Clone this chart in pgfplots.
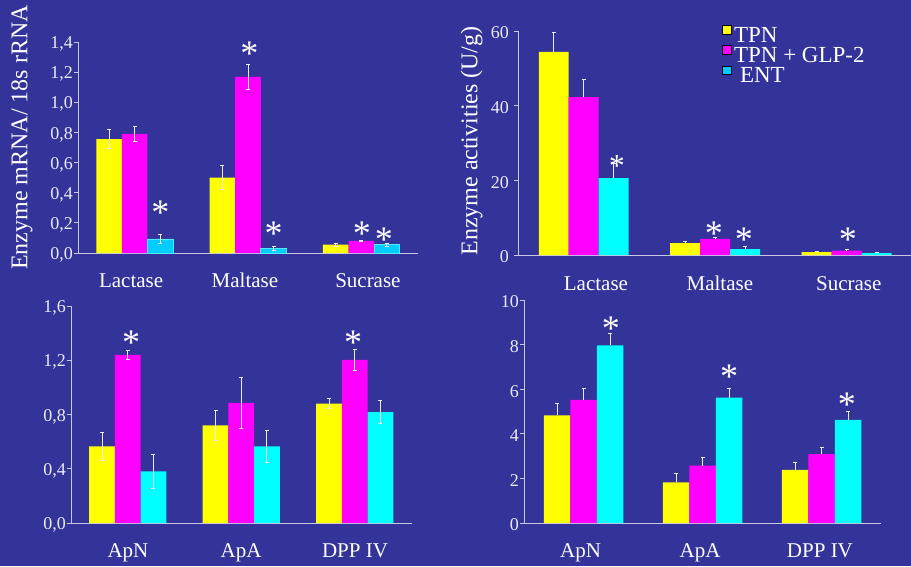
\documentclass[border=0pt]{standalone}
\usepackage{fontspec}
\setmainfont{Liberation Serif}
\usepackage{pgfplots}
\pgfplotsset{compat=1.18}
\definecolor{bg}{RGB}{51,51,153}
\definecolor{yel}{RGB}{255,255,0}
\definecolor{mag}{RGB}{255,0,255}
\definecolor{cyA}{RGB}{0,204,255}
\definecolor{cyAb}{RGB}{80,235,255}
\definecolor{cyB}{RGB}{0,255,255}
\definecolor{axc}{RGB}{200,200,230}
\definecolor{txt}{RGB}{235,235,245}
\tikzset{astk/.style={anchor=base, yshift=-16.2pt, inner sep=0pt, text=white, font=\fontsize{36}{36}\selectfont}}
\pgfplotsset{
  panel/.style={
    scale only axis, anchor=south west,
    axis x line*=bottom, axis y line*=left,
    axis line style={axc, line width=0.9pt, -},
    xmin=-0.5, xmax=2.5, ymin=0,
    tick align=outside, major tick length=4pt,
    xtick style={draw=none}, ytick style={axc, line width=0.8pt},
    yticklabel style={font=\fontsize{18}{18}\selectfont, text=txt, inner sep=1pt, yshift=-2pt},
    xticklabel style={font=\fontsize{21}{21}\selectfont, text=white, anchor=base, yshift=-30pt},
    /pgf/number format/assume math mode=true,
    clip=false,
  },
  commaticks/.style={yticklabel style={/pgf/number format/.cd, use comma, fixed, fixed zerofill, precision=1}},
  mybar/.style={ybar, /pgf/bar shift=0pt, draw=none, fill=#1, forget plot},
  eb/.style={error bars/.cd, y dir=#1, y explicit,
    error bar style={line width=0.9pt, txt},
    error mark options={rotate=90, mark size=2pt, line width=0.9pt, txt}},
}
\begin{document}
\begin{tikzpicture}
\fill[bg] (0,0) rectangle (911pt,566pt);

% ---------- Panel 1: mRNA ----------
\begin{axis}[panel, commaticks, at={(78pt,313pt)}, width=340pt, height=211pt,
  ymax=1.4, ytick={0,0.2,...,1.4},
  xtick={-0.031,0.973,2.058}, xticklabels={Lactase,Maltase,Sucrase},
  ylabel={Enzyme mRNA/ 18s rRNA},
  every axis y label/.style={at={(-0.165,0.547)}, rotate=90, anchor=center, font=\fontsize{24}{24}\selectfont, text=white}]
\addplot[mybar=yel, bar width=0.2257, eb=both] coordinates {(-0.2257,0.756) +- (0,0.063) (0.7743,0.50) +- (0,0.08) (1.7743,0.055) +- (0,0.01)};
\addplot[mybar=mag, bar width=0.2257, eb=both] coordinates {(0,0.79) +- (0,0.048) (1,1.168) +- (0,0.085) (2,0.08) +- (0,0.006)};
\addplot[mybar=cyA, draw=cyAb, line width=0.8pt, bar width=0.2257, eb=both] coordinates {(0.2257,0.093) +- (0,0.03) (1.2257,0.03) +- (0,0.012) (2.2257,0.055) +- (0,0.01)};
\node[astk] at (axis cs:0.226,0.299) {*};
\node[astk] at (axis cs:1.013,1.354) {*};
\node[astk] at (axis cs:1.226,0.159) {*};
\node[astk] at (axis cs:2.004,0.159) {*};
\node[astk] at (axis cs:2.199,0.119) {*};
\end{axis}

% ---------- Panel 2: activities ----------
\begin{axis}[panel, at={(518pt,311pt)}, width=393pt, height=224pt,
  xmax=2.49, ymax=60, ytick={0,20,40,60},
  yticklabel style={xshift=-4pt},
  xtick={0.093,1.036,2.017}, xticklabels={Lactase,Maltase,Sucrase},
  xticklabel style={yshift=-1pt},
  ylabel={Enzyme activities (U/g)},
  every axis y label/.style={at={(-0.118,0.509)}, rotate=90, anchor=center, font=\fontsize{24}{24}\selectfont, text=white},
  legend style={at={(0.519,1.027)}, anchor=north west, draw=none, fill=none, text=white,
    font=\fontsize{23}{23}\selectfont, inner sep=0pt, row sep=3.2pt,
    nodes={inner sep=0pt, text height=0.68em, text depth=0pt},
    /tikz/every odd column/.style={column sep=3pt}},
  legend cell align=left,
  legend image code/.code={\fill[#1] (0pt,5pt) rectangle (8.5pt,13.5pt);}]
\addlegendimage{fill=yel}\addlegendentry{TPN}
\addlegendimage{fill=mag}\addlegendentry{TPN + GLP-2}
\addlegendimage{fill=cyA}\addlegendentry{\hspace{6pt}ENT}
\addplot[mybar=yel, bar width=0.228, eb=plus] coordinates {(-0.228,54.4) +- (0,5.1) (0.772,3.2) +- (0,0.3) (1.772,0.8) +- (0,0.15)};
\addplot[mybar=mag, bar width=0.228, eb=plus] coordinates {(0,42.3) +- (0,4.8) (1,4.3) +- (0,0.5) (2,1.2) +- (0,0.2)};
\addplot[mybar=cyB, bar width=0.228, eb=plus] coordinates {(0.228,20.6) +- (0,4.0) (1.228,1.6) +- (0,0.6) (2.228,0.5) +- (0,0.2)};
\node[astk, font=\fontsize{32}{32}\selectfont, yshift=2pt] at (axis cs:0.253,24.9) {*};
\node[astk] at (axis cs:0.990,6.97) {*};
\node[astk] at (axis cs:1.219,5.36) {*};
\node[astk] at (axis cs:2.009,5.36) {*};
\end{axis}

% ---------- Panel 3: mRNA peptidases ----------
\begin{axis}[panel, commaticks, at={(71pt,43pt)}, width=340.5pt, height=217pt,
  ymax=1.6, ytick={0,0.4,0.8,1.2,1.6},
  xtick={0.002,0.998,2.002}, xticklabels={ApN,ApA,DPP IV}]
\addplot[mybar=yel, bar width=0.2264, eb=both] coordinates {(-0.2264,0.565) +- (0,0.105) (0.7736,0.72) +- (0,0.113) (1.7736,0.88) +- (0,0.035)};
\addplot[mybar=mag, bar width=0.2264, eb=both] coordinates {(0,1.239) +- (0,0.033) (1,0.885) +- (0,0.19) (2,1.202) +- (0,0.077)};
\addplot[mybar=cyB, bar width=0.2264, eb=both] coordinates {(0.2264,0.381) +- (0,0.125) (1.2264,0.565) +- (0,0.12) (2.2264,0.818) +- (0,0.083)};
\node[astk] at (axis cs:0.029,1.364) {*};
\node[astk] at (axis cs:1.985,1.364) {*};
\end{axis}

% ---------- Panel 4: peptidase activities ----------
\begin{axis}[panel, at={(524pt,43pt)}, width=357pt, height=223pt,
  ymax=10, ytick={0,2,4,6,8,10},
  xtick={-0.025,0.979,1.987}, xticklabels={ApN,ApA,DPP IV}]
\addplot[mybar=yel, bar width=0.2227, eb=plus] coordinates {(-0.2227,4.83) +- (0,0.54) (0.7773,1.82) +- (0,0.38) (1.7773,2.38) +- (0,0.34)};
\addplot[mybar=mag, bar width=0.2227, eb=plus] coordinates {(0,5.52) +- (0,0.5) (1,2.57) +- (0,0.37) (2,3.09) +- (0,0.32)};
\addplot[mybar=cyB, bar width=0.2227, eb=plus] coordinates {(0.2227,7.97) +- (0,0.53) (1.2227,5.62) +- (0,0.4) (2.2227,4.62) +- (0,0.36)};
\node[astk] at (axis cs:0.231,8.92) {*};
\node[astk] at (axis cs:1.223,6.77) {*};
\node[astk] at (axis cs:2.214,5.52) {*};
\end{axis}

\pgfresetboundingbox
\path[use as bounding box] (0,0) rectangle (911pt,566pt);
\end{tikzpicture}
\end{document}
